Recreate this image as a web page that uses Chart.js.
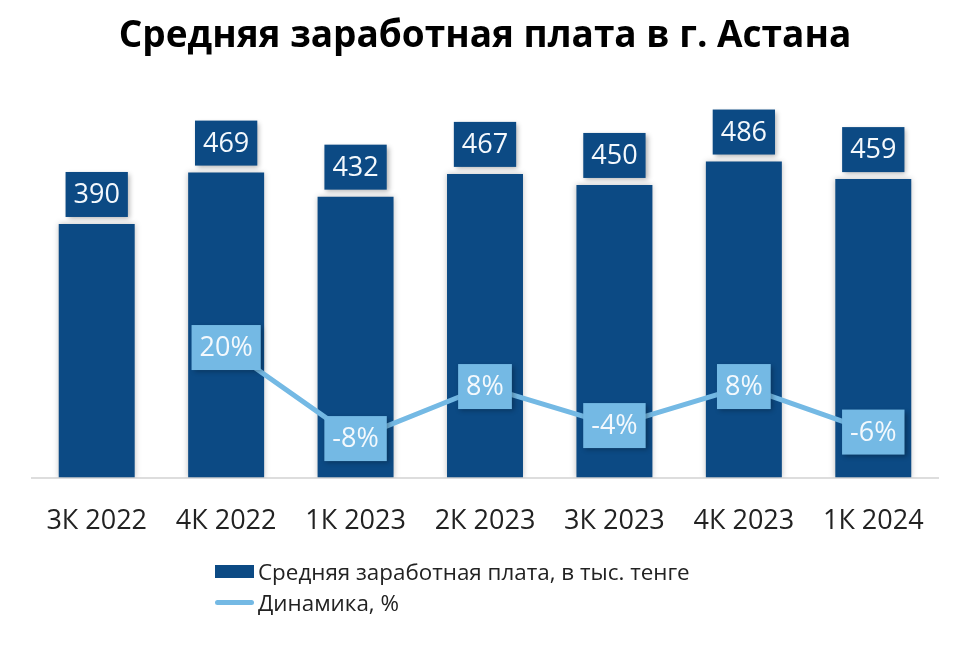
<!DOCTYPE html>
<html>
<head>
<meta charset="utf-8">
<script src="https://cdn.jsdelivr.net/npm/chart.js@4.4.1/dist/chart.umd.min.js"></script>
<style>
  html, body { margin: 0; padding: 0; background: #fff; }
  #wrap { position: relative; width: 960px; height: 645px; }
  #legend {
    position: absolute; left: 215px; top: 556px;
    font-family: "Open Sans", sans-serif; font-size: 22.4px; color: #222;
    line-height: 31px;
  }
  .item { display: flex; align-items: center; }
  .sw-bar { width: 39px; height: 13px; background: #0c4a84; margin-right: 4px; }
  .sw-line { width: 39px; height: 5px; background: #74b9e4; border-radius: 3px; margin-right: 4px; }
</style>
</head>
<body>
<div id="wrap">
  <canvas id="chart" width="960" height="645"></canvas>
  <div id="legend">
    <div class="item"><span class="sw-bar"></span>Средняя заработная плата, в тыс. тенге</div>
    <div class="item"><span class="sw-line"></span>Динамика, %</div>
  </div>
</div>
<script>
// данные
const categories = ['3К 2022', '4К 2022', '1К 2023', '2К 2023', '3К 2023', '4К 2023', '1К 2024'];
const salary = [390, 469, 432, 467, 450, 486, 459];
const dynamics = [null, 20, -8, 8, -4, 8, -6];

const barColor = '#0c4a84';
const lineColor = '#74b9e4';

// подписи в прямоугольниках над столбцами и на точках линии
const boxLabels = {
  id: 'boxLabels',
  afterDatasetsDraw(chart) {
    const ctx = chart.ctx;
    ctx.save();
    ctx.font = '27px "Open Sans", sans-serif';
    ctx.textAlign = 'center';
    ctx.textBaseline = 'middle';

    const drawBox = (cx, cy, text, fill) => {
      const w = ctx.measureText(text).width + 16;
      const h = 45;
      ctx.save();
      ctx.shadowColor = 'rgba(0,0,0,0.3)';
      ctx.shadowBlur = 5;
      ctx.shadowOffsetX = 2;
      ctx.shadowOffsetY = 2;
      ctx.fillStyle = fill;
      ctx.fillRect(cx - w / 2, cy - h / 2, w, h);
      ctx.restore();
      ctx.fillStyle = '#f4f9fd';
      ctx.fillText(text, cx, cy + 1);
    };

    const barMeta = chart.getDatasetMeta(0);
    barMeta.data.forEach((el, i) => {
      drawBox(el.x, el.y - 7 - 22.5, String(salary[i]), barColor);
    });

    const lineMeta = chart.getDatasetMeta(1);
    lineMeta.data.forEach((el, i) => {
      if (dynamics[i] === null) return;
      drawBox(el.x, el.y, dynamics[i] + '%', lineColor);
    });
    ctx.restore();
  }
};

// лёгкая тень у столбцов
const barShadow = {
  id: 'barShadow',
  beforeDatasetDraw(chart, args) {
    if (args.index !== 0) return;
    const ctx = chart.ctx;
    ctx.save();
    ctx.shadowColor = 'rgba(0,0,0,0.25)';
    ctx.shadowBlur = 6;
    ctx.shadowOffsetX = 0;
    ctx.shadowOffsetY = 0;
  },
  afterDatasetDraw(chart, args) {
    if (args.index !== 0) return;
    chart.ctx.restore();
  }
};

new Chart(document.getElementById('chart'), {
  data: {
    labels: categories,
    datasets: [
      {
        type: 'bar',
        label: 'Средняя заработная плата, в тыс. тенге',
        data: salary,
        backgroundColor: barColor,
        barPercentage: 0.587,
        categoryPercentage: 1,
        yAxisID: 'y',
        order: 2
      },
      {
        type: 'line',
        label: 'Динамика, %',
        data: dynamics,
        borderColor: lineColor,
        borderWidth: 5,
        pointRadius: 0,
        tension: 0,
        yAxisID: 'y1',
        order: 1
      }
    ]
  },
  options: {
    responsive: false,
    animation: false,
    layout: { padding: { left: 32, right: 22, top: 0, bottom: 87 } },
    plugins: {
      legend: { display: false },
      tooltip: { enabled: false },
      title: {
        display: true,
        text: 'Средняя заработная плата в г. Астана',
        color: '#000',
        font: { family: '"Open Sans", sans-serif', size: 37, weight: 'bold' },
        padding: { top: 14, bottom: 29 }
      }
    },
    scales: {
      x: {
        grid: { display: false },
        border: { display: true, color: '#dddddd', width: 2 },
        ticks: {
          color: '#222',
          padding: 20,
          font: { family: '"Open Sans", sans-serif', size: 27 }
        }
      },
      y: { display: false, min: 0, max: 600 },
      y1: { display: false, min: -20, max: 100 }
    }
  },
  plugins: [barShadow, boxLabels]
});
</script>
</body>
</html>
